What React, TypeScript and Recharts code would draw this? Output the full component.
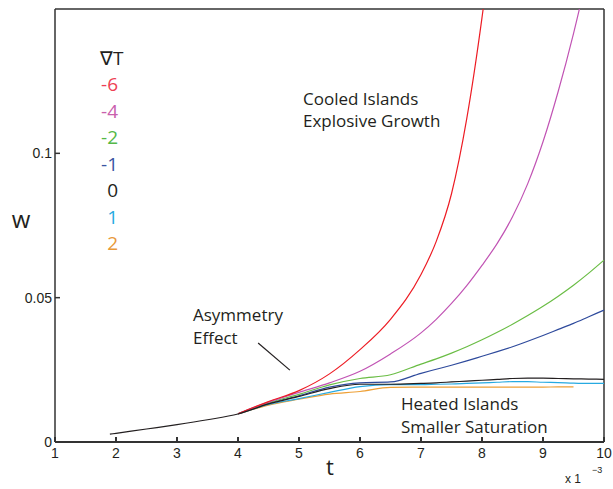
import React from 'react';
import { LineChart, Line, XAxis, YAxis, ReferenceLine } from 'recharts';

// time axis (x 1e-3) and the growth w for each temperature gradient
const n = null;
const tValues = [1.9, 2, 2.5, 3, 3.5, 4, 4.5, 5, 5.5, 6, 6.5, 7, 7.25, 7.5, 7.75, 8, 8.25, 8.5, 8.75, 9, 9.25, 9.5, 9.75, 10];

const wRed = [n, n, n, n, n, 0.0098, 0.014, 0.0178, 0.0236, 0.032, 0.0425, 0.058, 0.0695, 0.086, 0.112, 0.147, 0.19, n, n, n, n, n, n, n];
const wMagenta = [n, n, n, n, n, 0.0098, 0.0138, 0.0172, 0.0205, 0.0245, 0.0305, 0.0378, 0.0425, 0.048, 0.0542, 0.0612, 0.0688, 0.078, 0.0895, 0.104, 0.1215, 0.1415, 0.164, n];
const wGreen = [n, n, n, n, n, 0.0098, 0.0136, 0.0165, 0.0198, 0.022, 0.0233, 0.027, 0.0288, 0.0308, 0.033, 0.0354, 0.038, 0.0408, 0.0438, 0.047, 0.0505, 0.0543, 0.0585, 0.063];
const wBlue = [n, n, n, n, n, 0.0098, 0.0134, 0.016, 0.019, 0.0205, 0.0208, 0.0238, 0.0252, 0.0266, 0.0281, 0.0297, 0.0313, 0.033, 0.0349, 0.0369, 0.039, 0.0411, 0.0434, 0.0457];
const wBlack = [0.0027, 0.003, 0.0045, 0.006, 0.0077, 0.0097, 0.0132, 0.0158, 0.0185, 0.02, 0.02, 0.0203, 0.0205, 0.0208, 0.0211, 0.0214, 0.0217, 0.022, 0.0221, 0.0221, 0.022, 0.0219, 0.0218, 0.0217];
const wCyan = [n, n, n, n, n, 0.0097, 0.013, 0.015, 0.0172, 0.0192, 0.0199, 0.0199, 0.02, 0.0201, 0.0203, 0.0205, 0.0207, 0.0209, 0.0209, 0.0207, 0.0206, 0.0204, 0.0203, 0.0203];
const wOrange = [n, n, n, n, n, 0.0097, 0.0128, 0.0148, 0.0166, 0.0175, 0.0189, 0.019, 0.019, 0.019, 0.019, 0.019, 0.019, 0.019, 0.019, 0.019, 0.0191, 0.0191, n, n];

const xTicks = [1, 2, 3, 4, 5, 6, 7, 8, 9, 10];
const yTicks = [0, 0.05, 0.1];

const gradLabels = ['-6', '-4', '-2', '-1', '0', '1', '2'];
const gradColors = ['#ee3f55', '#c960ad', '#55b848', '#3a55a3', '#231f20', '#27aae1', '#e8993a'];
const lineColors = ['#ed1c24', '#c154b4', '#6abd45', '#2e4a9c', '#231f20', '#27aae1', '#eea036'];

const series = [wRed, wMagenta, wGreen, wBlue, wBlack, wCyan, wOrange];

const data = tValues.map((t, i) => {
  const row: Record<string, number | null> = { t };
  series.forEach((s, k) => {
    row['s' + k] = s[i];
  });
  return row;
});

const sans = '"Open Sans", sans-serif';
const tickFont = { fontFamily: '"Liberation Sans", Arial, sans-serif', fontSize: 14, fill: '#231f20' };
const axisColor = '#333';

export default function App() {
  // draw order: flat ones first, exploding ones last
  const order = [6, 5, 3, 2, 1, 0, 4];
  return (
    <div style={{ position: 'absolute', left: 0, top: 0, width: 613, height: 489, background: '#fff' }}>
      <LineChart width={613} height={489} data={data} margin={{ top: 9, right: 9, bottom: 0, left: 0 }}>
        <XAxis
          dataKey="t"
          type="number"
          domain={[1, 10]}
          ticks={xTicks}
          height={47}
          tickSize={-5}
          tickMargin={11}
          tick={tickFont}
          stroke={axisColor}
          strokeWidth={2}
        />
        <YAxis
          type="number"
          domain={[0, 0.15]}
          allowDataOverflow
          ticks={yTicks}
          width={55}
          tickSize={-5}
          tickMargin={8}
          tick={tickFont}
          stroke={axisColor}
          strokeWidth={1.5}
        />
        <ReferenceLine y={0.15} stroke={axisColor} strokeWidth={1.5} />
        <ReferenceLine x={10} stroke={axisColor} strokeWidth={1.5} />
        <ReferenceLine
          segment={[{ x: 4.33, y: 0.0343 }, { x: 4.85, y: 0.0249 }]}
          stroke="#231f20"
          strokeWidth={1.2}
        />
        {order.map((k) => (
          <Line
            key={k}
            dataKey={'s' + k}
            type="monotone"
            stroke={lineColors[k]}
            strokeWidth={1.2}
            dot={false}
            isAnimationActive={false}
          />
        ))}
      </LineChart>
      <svg width={613} height={489} style={{ position: 'absolute', left: 0, top: 0, pointerEvents: 'none' }}>
        <g fontFamily={sans} fill="#231f20">
          <text x={100} y={65} fontSize={19}>∇T</text>
          {gradLabels.map((lab, i) => (
            <text key={lab} x={118} y={91 + i * 26.5} fontSize={19} textAnchor="end" fill={gradColors[i]}>
              {lab}
            </text>
          ))}
          <text x={303} y={105} fontSize={17}>Cooled Islands</text>
          <text x={303} y={127} fontSize={17}>Explosive Growth</text>
          <text x={193} y={321} fontSize={17}>Asymmetry</text>
          <text x={193} y={344} fontSize={17}>Effect</text>
          <text x={401} y={410} fontSize={17}>Heated Islands</text>
          <text x={401} y={433} fontSize={17}>Smaller Saturation</text>
          <text x={330} y={475} fontSize={22} textAnchor="middle">t</text>
          <text x={21} y={228} fontSize={24} textAnchor="middle">w</text>
        </g>
        <g fontFamily='"Liberation Sans", Arial, sans-serif' fill="#231f20">
          <text x={565} y={483} fontSize={12}>x 1</text>
          <text x={592} y={473} fontSize={9}>−3</text>
        </g>
      </svg>
    </div>
  );
}
